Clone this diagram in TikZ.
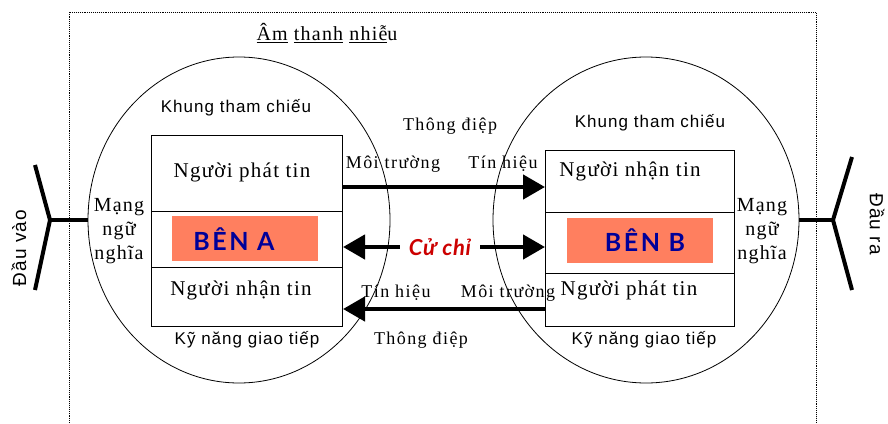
\documentclass[tikz,border=0pt]{standalone}
\usepackage{fontspec}
\setmainfont{Liberation Serif}[LetterSpace=6]
\newfontfamily\arialf{Liberation Sans}[LetterSpace=6]
\newfontfamily\smallf{Liberation Serif}[LetterSpace=8]
\newfontfamily\latof{Lato}[LetterSpace=10]
\newfontfamily\latoc{Lato}[LetterSpace=3]
\usetikzlibrary{arrows.meta,shapes.geometric}
\definecolor{benorange}{HTML}{FF7F5F}
\definecolor{benblue}{HTML}{000099}
\definecolor{ccred}{HTML}{CC0000}
\begin{document}
\begin{tikzpicture}[x=1pt,y=-1pt,
  sect/.style={draw, line width=1pt, inner sep=0pt, anchor=north west},
  orange/.style={fill=benorange, inner sep=0pt, anchor=north west},
  circ/.style={draw, ellipse, line width=0.8pt, inner sep=0pt},
  boxtxt/.style={inner sep=0pt, font=\fontsize{21}{24}\selectfont},
  small/.style={inner sep=0pt, font=\smallf\fontsize{18}{21}\selectfont},
  sanstxt/.style={inner sep=0pt, font=\arialf\fontsize{17}{20}\selectfont},
  sidetxt/.style={inner sep=0pt, font=\arialf\fontsize{19}{22}\selectfont},
  mang/.style={inner sep=0pt, align=center, font=\fontsize{20}{24}\selectfont},
  ben/.style={inner sep=0pt, text=benblue, font=\latof\bfseries\fontsize{25}{28}\selectfont},
  arr/.style={line width=4.5pt, -{Triangle[length=22pt,width=24pt]}},
  yline/.style={line width=4pt, line join=round},
]
\useasboundingbox (0,0) rectangle (888,423);

% dotted frame
\draw[densely dotted, line width=0.9pt] (69,423) -- (69,12) -- (816,12) -- (816,423);
\node[inner sep=0pt, font=\fontsize{20}{24}\selectfont] (title) at (327,33)
  {\underline{Âm} \underline{thanh} \underline{nhiễ}u};

% circles
\node[circ, minimum width=302pt, minimum height=326pt] (cA) at (239,220) {};
\node[circ, minimum width=306pt, minimum height=326pt] (cB) at (646,220) {};

% left box (A)
\node[sect, minimum width=191pt, minimum height=76pt] (Atop) at (151,135) {};
\node[sect, minimum width=191pt, minimum height=56pt] (Amid) at (151,211) {};
\node[sect, minimum width=191pt, minimum height=59pt] (Abot) at (151,267) {};
\node[orange, minimum width=146pt, minimum height=45pt] (oA) at (172,216) {};
\node[ben] (benA) at (234,239) {BÊN A};

% right box (B)
\node[sect, minimum width=189pt, minimum height=62pt] (Btop) at (545,150) {};
\node[sect, minimum width=189pt, minimum height=61pt] (Bmid) at (545,212) {};
\node[sect, minimum width=189pt, minimum height=53pt] (Bbot) at (545,273) {};
\node[orange, minimum width=146pt, minimum height=45pt] (oB) at (567,218) {};
\node[ben] (benB) at (645,240) {BÊN B};

% box texts
\node[boxtxt] (ptA) at (242,172) {Người phát tin};
\node[boxtxt] (ntA) at (241,290) {Người nhận tin};
\node[boxtxt] (ntB) at (630,171) {Người nhận tin};
\node[boxtxt] (ptB) at (629,290) {Người phát tin};

\node[sanstxt] (kA) at (236,108) {Khung tham chiếu};
\node[sanstxt] (kB) at (650,123) {Khung tham chiếu};
\node[sanstxt] (gA) at (247,340) {Kỹ năng giao tiếp};
\node[sanstxt] (gB) at (644,340) {Kỹ năng giao tiếp};

\node[mang] (mA) at (119,231) {Mạng\\ngữ\\nghĩa};
\node[mang] (mB) at (762,231) {Mạng\\ngữ\\nghĩa};

% channel labels
\node[small] (td1) at (450,126) {Thông điệp};
\node[small] (mt1) at (393,164) {Môi trường};
\node[small] (th1) at (503,164) {Tín hiệu};
\node[small] (th2) at (396,293) {Tín hiệu};
\node[small] (mt2) at (508,293) {Môi trường};
\node[small] (td2) at (421,340) {Thông điệp};

% arrows
\coordinate (yTop) at (0,187);
\coordinate (yBot) at (0,309);
\draw[arr] (Atop.east |- yTop) -- (Btop.west |- yTop);
\draw[arr] (Bbot.west |- yBot) -- (Abot.east |- yBot);

\node[inner sep=0pt, minimum width=80pt, text=ccred, font=\latoc\bfseries\itshape\fontsize{22}{26}\selectfont] (cc) at (440,247) {Cử chỉ};
\draw[arr] (cc.west) -- (Amid.east |- cc);
\draw[arr] (cc.east) -- (Bmid.west |- cc);

% inputs / outputs
\coordinate (jL) at (50,220);
\coordinate (tL) at (35,165);
\coordinate (bL) at (35,290);
\draw[yline] (cA.west) -- (jL);
\draw[yline] (tL) -- (jL) -- (bL);
\node[sidetxt, rotate=90] (dv) at (19,248) {Đầu vào};

\coordinate (jR) at (833,220);
\coordinate (tR) at (852,157);
\coordinate (bR) at (852,290);
\draw[yline] (cB.east) -- (jR);
\draw[yline] (tR) -- (jR) -- (bR);
\node[sidetxt, rotate=-90] (dr) at (877,224) {Đầu ra};
\end{tikzpicture}
\end{document}
